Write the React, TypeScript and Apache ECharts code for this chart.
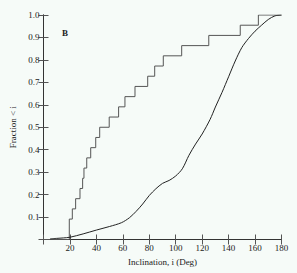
import React, { useEffect, useRef } from "react";
import * as echarts from "echarts";

const stepDegrees = [19.5, 21.8, 24.3, 27.6, 29.6, 30.6, 32.7, 35.7, 39.5, 42.5, 49.7, 56.8, 61.6, 69.2, 78.8, 84.1, 90.6, 104.5, 125, 148.8, 162.5];
const stepTotal = 22;
const stepFirstCount = 2;

const curveDeg = [5, 10, 15, 20, 30, 40, 50, 59, 65, 70, 75, 80, 85, 90, 95, 100, 105, 110, 115, 120, 126, 130, 135, 140, 145, 150, 155, 160, 165, 170, 175, 180];
const curveFrac = [0.003, 0.005, 0.007, 0.01, 0.025, 0.042, 0.058, 0.075, 0.097, 0.125, 0.158, 0.196, 0.226, 0.25, 0.263, 0.283, 0.315, 0.375, 0.425, 0.47, 0.535, 0.59, 0.655, 0.725, 0.795, 0.855, 0.895, 0.928, 0.955, 0.98, 0.996, 1.0];

const xTicks = { min: 0, max: 180, interval: 20 };
const yTicks = { min: 0, max: 1, interval: 0.1 };

const FONT = "Liberation Serif";

export default function App() {
  const ref = useRef<HTMLDivElement>(null);
  useEffect(() => {
    const chart = echarts.init(ref.current!, undefined, { renderer: "svg" });
    const stepData: number[][] = [[0, 0]];
    stepDegrees.forEach((d, i) => {
      stepData.push([d, (stepFirstCount + i) / stepTotal]);
    });
    stepData.push([180, 1]);
    const curveData = curveDeg.map((d, i) => [d, curveFrac[i]]);
    const axisLine = { lineStyle: { color: "#333", width: 1 } };
    const axisTick = { inside: true, length: 5, lineStyle: { color: "#555" } };
    chart.setOption({
      animation: false,
      backgroundColor: "#f6fbf8",
      grid: { left: 43.5, right: 15.5, top: 15, bottom: 33.5 },
      xAxis: [
        {
          type: "value", ...xTicks, position: "bottom",
          axisLine: { show: true, ...axisLine }, axisTick, splitLine: { show: false },
          axisLabel: { fontFamily: FONT, fontSize: 9, color: "#222", margin: 4, formatter: (v: number) => (v === 0 ? "" : String(v)) },
          name: "Inclination, i (Deg)", nameLocation: "middle", nameGap: 16,
          nameTextStyle: { fontFamily: FONT, fontSize: 9, color: "#222" },
        },
        {
          type: "value", ...xTicks, position: "top",
          axisLine: { show: true, ...axisLine }, axisTick, splitLine: { show: false }, axisLabel: { show: false },
        },
      ],
      yAxis: [
        {
          type: "value", ...yTicks, position: "left",
          axisLine: { show: true, ...axisLine }, axisTick, splitLine: { show: false },
          axisLabel: { fontFamily: FONT, fontSize: 9, color: "#222", margin: 4, formatter: (v: number) => (v === 0 ? "" : v.toFixed(1)) },
          name: "Fraction < i", nameLocation: "middle", nameGap: 21,
          nameTextStyle: { fontFamily: FONT, fontSize: 9, color: "#222" },
        },
        {
          type: "value", ...yTicks, position: "right",
          axisLine: { show: true, ...axisLine }, axisTick, splitLine: { show: false }, axisLabel: { show: false },
        },
      ],
      graphic: [
        { type: "text", left: 62, top: 28, style: { text: "B", font: `bold 9px "${FONT}"`, fill: "#222" } },
      ],
      series: [
        {
          type: "line", data: stepData, step: "end", showSymbol: false,
          lineStyle: { color: "#555", width: 1 },
        },
        {
          type: "line", data: curveData, smooth: 0.3, showSymbol: false,
          lineStyle: { color: "#222", width: 1 },
        },
      ],
    });
    return () => chart.dispose();
  }, []);
  return <div ref={ref} style={{ position: "fixed", left: 0, top: 0, width: 297, height: 273 }} />;
}
